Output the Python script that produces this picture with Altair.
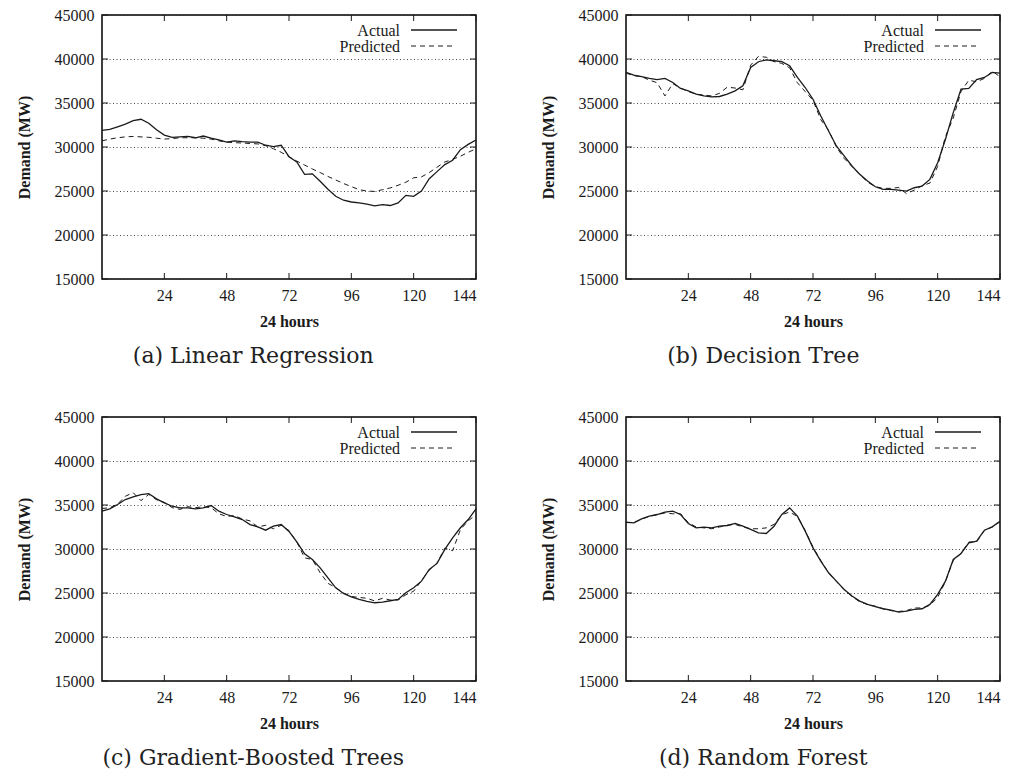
import altair as alt
import pandas as pd

hours = list(range(0, 145, 3))

lr_actual = [31900, 32000, 32300, 32600, 33000, 33150, 32700, 31950, 31350, 31100,
             31150, 31200, 31050, 31250, 31000, 30800, 30550, 30700, 30600, 30550,
             30550, 30200, 30050, 30200, 28900, 28300, 26900, 26950, 26100, 25200,
             24400, 23950, 23750, 23650, 23500, 23300, 23450, 23350, 23650, 24500,
             24400, 25000, 26400, 27200, 28000, 28500, 29700, 30300, 30800]
lr_pred = [30700, 30900, 31050, 31150, 31200, 31150, 31100, 31000, 30900, 30950,
           31050, 31050, 31050, 31000, 30900, 30700, 30550, 30500, 30450, 30400,
           30350, 30150, 29800, 29400, 28900, 28400, 27950, 27500, 27100, 26650,
           26250, 25850, 25500, 25150, 25000, 24950, 25150, 25350, 25650, 26000,
           26500, 26600, 27100, 27700, 28300, 28600, 28950, 29400, 29800]

dt_actual = [38470, 38170, 38000, 37800, 37650, 37800, 37330, 36650, 36380, 36000,
             35800, 35700, 35740, 36000, 36380, 36950, 39040, 39690, 39900, 39800,
             39690, 39230, 37900, 36760, 35430, 33530, 31820, 30120, 28980, 27840,
             26890, 26130, 25480, 25180, 25180, 25100, 24990, 25370, 25560, 26320,
             28220, 30880, 33910, 36570, 36650, 37650, 37900, 38470, 38400]
dt_pred = [38400, 38100, 38000, 37600, 37300, 35800, 37200, 36700, 36300, 36000,
           35900, 35800, 36100, 36800, 36700, 36500, 39300, 40300, 40200, 39700,
           39500, 39000, 37300, 36300, 35300, 33100, 31900, 30000, 28700, 27800,
           26900, 26000, 25500, 25300, 25300, 25400, 24700, 25100, 25600, 25900,
           27800, 31200, 33300, 36300, 37600, 37400, 37800, 38600, 38000]

gbt_actual = [34300, 34560, 35050, 35620, 35920, 36190, 36300, 35700, 35240, 34860,
              34670, 34670, 34560, 34670, 34940, 34300, 33920, 33650, 33350, 32780,
              32520, 32140, 32590, 32780, 32000, 30800, 29450, 28810, 27860, 26730,
              25590, 24950, 24570, 24270, 24040, 23890, 23970, 24120, 24270, 25030,
              25590, 26350, 27680, 28360, 29950, 31270, 32410, 33350, 34560]
gbt_pred = [34600, 34700, 35100, 36000, 36400, 35500, 36200, 35600, 35300, 34700,
            34500, 34800, 34700, 34800, 34700, 34000, 33700, 33800, 33400, 33200,
            32500, 32700, 32300, 32700, 32100, 30800, 29000, 28800, 27300, 26100,
            25600, 25000, 24600, 24500, 24400, 24100, 24400, 24200, 24200, 24800,
            25200, 26400, 27600, 28400, 30100, 29800, 32200, 33200, 33900]

rf_actual = [33050, 32970, 33430, 33730, 33920, 34180, 34300, 33920, 32900, 32410,
             32480, 32410, 32590, 32670, 32900, 32590, 32220, 31840, 31760, 32590,
             33920, 34670, 33730, 32030, 30130, 28620, 27300, 26350, 25400, 24650,
             24080, 23700, 23440, 23210, 23060, 22830, 22950, 23130, 23210, 23700,
             24840, 26350, 28810, 29490, 30700, 30890, 32140, 32520, 33160]
rf_pred = [33000, 33000, 33400, 33700, 33900, 34100, 34000, 34000, 33000, 32500,
           32400, 32300, 32500, 32700, 32800, 32500, 32300, 32300, 32400, 32800,
           33900, 34200, 33700, 32100, 30200, 28700, 27300, 26300, 25400, 24600,
           24000, 23700, 23500, 23200, 23000, 22900, 23000, 23300, 23300, 23600,
           24500, 26300, 28700, 29500, 30800, 30800, 32100, 32500, 33100]

panel_titles = ["(a) Linear Regression", "(b) Decision Tree",
                "(c) Gradient-Boosted Trees", "(d) Random Forest"]
series_names = ["Actual", "Predicted"]
x_ticks = [24, 48, 72, 96, 120, 144]
y_ticks = [15000, 20000, 25000, 30000, 35000, 40000, 45000]
x_title = "24 hours"
y_title = "Demand (MW)"

W, H = 374, 264
INK = "#1a1a1a"
SERIF = "Liberation Serif"

xscale = alt.Scale(domain=[0, 144], nice=False, zero=False)
yscale = alt.Scale(domain=[15000, 45000], nice=False, zero=False)

x_axis = alt.Axis(values=x_ticks, title=x_title, grid=False, ticks=False,
                  domain=False, labelPadding=8, titlePadding=10,
                  labelFont=SERIF, labelFontSize=16, labelColor=INK,
                  titleFont=SERIF, titleFontSize=16, titleFontWeight="bold",
                  titleColor=INK)
y_axis = alt.Axis(values=y_ticks, format="d", title=y_title, grid=True,
                  gridDash=[1, 2.5], gridColor="#333", gridWidth=0.9,
                  gridOpacity=1, ticks=False, domain=False, labelPadding=8,
                  titlePadding=22,
                  labelFont=SERIF, labelFontSize=16, labelColor=INK,
                  titleFont=SERIF, titleFontSize=16, titleFontWeight="bold",
                  titleColor=INK)


def xe():
    return alt.X("hour:Q", scale=xscale, axis=x_axis)


def ye():
    return alt.Y("demand:Q", scale=yscale, axis=y_axis)


def panel(actual, pred, title, title_dx):
    for arr in (actual, pred):
        assert len(arr) == len(hours)
    df = pd.DataFrame({
        "hour": hours * 2,
        "demand": actual + pred,
        "series": [series_names[0]] * len(hours) + [series_names[1]] * len(hours),
    })
    base = alt.Chart(df)
    actual_line = base.transform_filter(
        alt.datum.series == series_names[0]
    ).mark_line(color=INK, strokeWidth=1.3).encode(x=xe(), y=ye())
    pred_line = base.transform_filter(
        alt.datum.series == series_names[1]
    ).mark_line(color=INK, strokeWidth=1.0, strokeDash=[5, 4]).encode(
        x=xe(), y=ye())

    # inward tick marks (gnuplot style)
    xt = pd.DataFrame({"hour": x_ticks})
    yt = pd.DataFrame({"demand": y_ticks})
    tb = alt.Chart(xt).mark_rule(color=INK, strokeWidth=1).encode(
        x=xe(), y=alt.value(H), y2=alt.value(H - 6))
    tt = alt.Chart(xt).mark_rule(color=INK, strokeWidth=1).encode(
        x=xe(), y=alt.value(0), y2=alt.value(6))
    tl = alt.Chart(yt).mark_rule(color=INK, strokeWidth=1).encode(
        y=ye(), x=alt.value(0), x2=alt.value(6))
    tr = alt.Chart(yt).mark_rule(color=INK, strokeWidth=1).encode(
        y=ye(), x=alt.value(W - 6), x2=alt.value(W))

    # legend, gnuplot style (label left, sample right)
    leg = []
    for i, name in enumerate(series_names):
        ldf = pd.DataFrame({"label": [name]})
        ty = 16 + 16 * i
        leg.append(alt.Chart(ldf).mark_text(
            align="right", baseline="middle", font=SERIF, fontSize=16,
            color=INK).encode(text="label:N", x=alt.value(298), y=alt.value(ty)))
        rule_kw = dict(color=INK, strokeWidth=1.3 if i == 0 else 1.0)
        if i == 1:
            rule_kw["strokeDash"] = [5, 4]
        leg.append(alt.Chart(ldf).mark_rule(**rule_kw).encode(
            x=alt.value(309), x2=alt.value(355 if i == 0 else 350),
            y=alt.value(ty - 1)))

    return alt.layer(actual_line, pred_line, tb, tt, tl, tr, *leg).properties(
        width=W, height=H,
        title=alt.TitleParams(title, orient="bottom", font="DejaVu Serif",
                              fontSize=22, fontWeight="normal", offset=17,
                              anchor="middle", frame="bounds", dx=title_dx,
                              color="#222"))


panels = [panel(lr_actual, lr_pred, panel_titles[0], 6),
          panel(dt_actual, dt_pred, panel_titles[1], -8),
          panel(gbt_actual, gbt_pred, panel_titles[2], 6),
          panel(rf_actual, rf_pred, panel_titles[3], -8)]

row1 = alt.hconcat(panels[0], panels[1], spacing=59)
row2 = alt.hconcat(panels[2], panels[3], spacing=59)

chart = alt.vconcat(row1, row2, spacing=40).properties(
    background="white",
    padding={"left": 7, "top": -2, "right": 0, "bottom": 0},
).configure_view(stroke="#000", strokeWidth=1.5)

chart.save("out.html", embed_options={"renderer": "svg", "actions": False})
